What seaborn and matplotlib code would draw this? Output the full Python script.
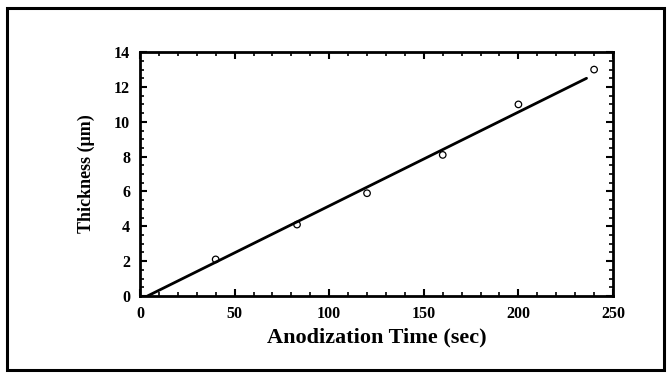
import matplotlib
matplotlib.use("Agg")
import matplotlib.pyplot as plt
import pandas as pd
import seaborn as sns
from matplotlib.ticker import MultipleLocator
from matplotlib.patches import Rectangle

# data
time_s = [40, 83, 120, 160, 200, 240]
thickness_um = [2.1, 4.1, 5.9, 8.1, 11.0, 13.0]
fit_time = [4, 236]
fit_thick = [0.0, 12.5]

df = pd.DataFrame({'Time': time_s, 'Thickness': thickness_um})
fit = pd.DataFrame({'Time': fit_time, 'Thickness': fit_thick})

sns.set_theme(style="ticks")
plt.rcParams['font.family'] = ['Liberation Serif', 'DejaVu Serif']
plt.rcParams['text.color'] = 'black'
plt.rcParams['axes.labelcolor'] = 'black'
plt.rcParams['xtick.color'] = 'black'
plt.rcParams['ytick.color'] = 'black'

fig = plt.figure(figsize=(6.71, 3.78), dpi=100)
# outer frame around the whole picture
fig.patches.append(Rectangle((0.011, 0.021), 0.978, 0.958, transform=fig.transFigure,
                             fill=False, edgecolor='black', linewidth=2.2))

ax = fig.add_axes([0.2086, 0.217, 0.7050, 0.645])
sns.lineplot(data=fit, x='Time', y='Thickness', color='black', linewidth=2.0, ax=ax)
sns.scatterplot(data=df, x='Time', y='Thickness', marker='o', s=22,
                facecolor='none', edgecolor='black', linewidth=0.9, ax=ax)

ax.set_xlim(0, 250)
ax.set_ylim(0, 14)
ax.xaxis.set_major_locator(MultipleLocator(50))
ax.xaxis.set_minor_locator(MultipleLocator(10))
ax.yaxis.set_major_locator(MultipleLocator(2))
ax.yaxis.set_minor_locator(MultipleLocator(0.5))
ax.tick_params(which='both', direction='in', top=True, right=True, color='black')
ax.tick_params(which='major', length=5, width=1.5, labelsize=11.5, pad=7)
ax.tick_params(which='minor', length=3, width=1.2)
for lab in ax.get_xticklabels() + ax.get_yticklabels():
    lab.set_fontweight('bold')
for sp in ax.spines.values():
    sp.set_linewidth(2.0)
    sp.set_color('black')

ax.set_xlabel('Anodization Time (sec)', fontsize=16, fontweight='bold', labelpad=4)
ax.set_ylabel('Thickness (μm)', fontsize=13, fontweight='bold', labelpad=14)

fig.savefig('out.png', dpi=100)
